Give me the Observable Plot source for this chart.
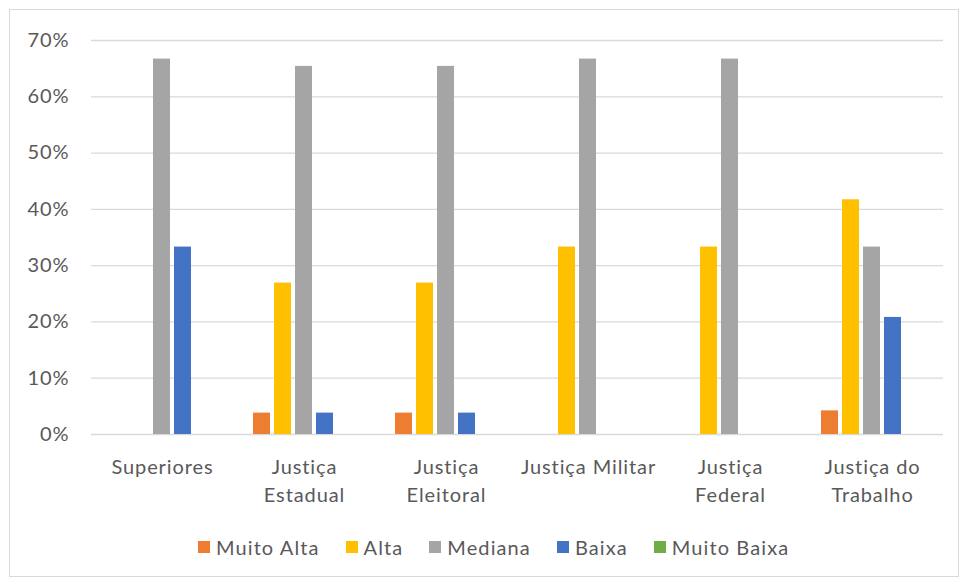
<!DOCTYPE html>
<html>
<head>
<meta charset="utf-8">
<script src="https://cdn.jsdelivr.net/npm/d3@7"></script>
<script src="https://cdn.jsdelivr.net/npm/@observablehq/plot@0.6"></script>
<style>
  html, body { margin: 0; padding: 0; background: #fff; }
  #wrap { position: relative; width: 962px; height: 581px; overflow: hidden; font-family: Lato, "Open Sans", sans-serif; }
  #frame { position: absolute; left: 9px; top: 9px; width: 950px; height: 568px; border: 1px solid #d9d9d9; box-sizing: border-box; }
  #chart { position: absolute; left: 0; top: 0; }
  #legend { position: absolute; left: 198px; top: 535px; display: flex; align-items: center; gap: 26px; font-size: 20px; color: #595959; letter-spacing: 1.1px; }
  #legend .item { display: flex; align-items: center; gap: 6px; }
  #legend .sw { width: 12px; height: 12px; display: inline-block; }
</style>
</head>
<body>
<div id="wrap">
  <div id="frame"></div>
  <div id="chart"></div>
  <div id="legend"></div>
</div>
<script>
const categories = ["Superiores", "Justiça Estadual", "Justiça Eleitoral", "Justiça Militar", "Justiça Federal", "Justiça do Trabalho"];
const categoryLabels = ["Superiores", "Justiça\nEstadual", "Justiça\nEleitoral", "Justiça Militar", "Justiça\nFederal", "Justiça do\nTrabalho"];
const series = ["Muito Alta", "Alta", "Mediana", "Baixa", "Muito Baixa"];
const colors = ["#ED7D31", "#FFC000", "#A5A5A5", "#4472C4", "#70AD47"];
const muitoAlta  = [0, 3.8, 3.8, 0, 0, 4.2];
const alta       = [0, 26.9, 26.9, 33.3, 33.3, 41.7];
const mediana    = [66.7, 65.4, 65.4, 66.7, 66.7, 33.3];
const baixa      = [33.3, 3.8, 3.8, 0, 0, 20.8];
const muitoBaixa = [0, 0, 0, 0, 0, 0];
const yTicks = [0, 10, 20, 30, 40, 50, 60, 70];

const valuesBySeries = [muitoAlta, alta, mediana, baixa, muitoBaixa];
const data = [];
categories.forEach((c, i) => {
  series.forEach((s, j) => data.push({category: c, series: s, value: valuesBySeries[j][i]}));
});

const chart = Plot.plot({
  width: 962,
  height: 520,
  marginLeft: 90,
  marginRight: 19,
  marginTop: 40,
  marginBottom: 86,
  style: {fontFamily: "Lato, 'Open Sans', sans-serif", fontSize: "20px", color: "#595959", background: "transparent", overflow: "visible", letterSpacing: "0.9px"},
  fx: {domain: categories, padding: 0, label: null},
  x: {domain: series, axis: null, paddingInner: 0.18, paddingOuter: 0.82},
  y: {domain: [0, 70], label: null},
  color: {domain: series, range: colors},
  marks: [
    Plot.gridY(yTicks.slice(1), {stroke: "#d9d9d9", strokeOpacity: 1, strokeWidth: 1.3}),
    Plot.ruleY([0], {stroke: "#d9d9d9", strokeWidth: 1.5}),
    Plot.axisY(yTicks, {tickSize: 0, tickPadding: 22, tickFormat: d => d + "%", fill: "#595959", fontSize: 20, label: null}),
    Plot.axisFx({anchor: "bottom", tickSize: 0, tickPadding: 20, lineHeight: 1.38, fontSize: 20, fill: "#595959", label: null,
      tickFormat: d => categoryLabels[categories.indexOf(d)]}),
    Plot.barY(data, {fx: "category", x: "series", y: "value", fill: "series"})
  ]
});
document.getElementById("chart").appendChild(chart);

const legend = document.getElementById("legend");
series.forEach((s, j) => {
  const item = document.createElement("div");
  item.className = "item";
  const sw = document.createElement("span");
  sw.className = "sw";
  sw.style.background = colors[j];
  const t = document.createElement("span");
  t.textContent = s;
  item.appendChild(sw);
  item.appendChild(t);
  legend.appendChild(item);
});
</script>
</body>
</html>
